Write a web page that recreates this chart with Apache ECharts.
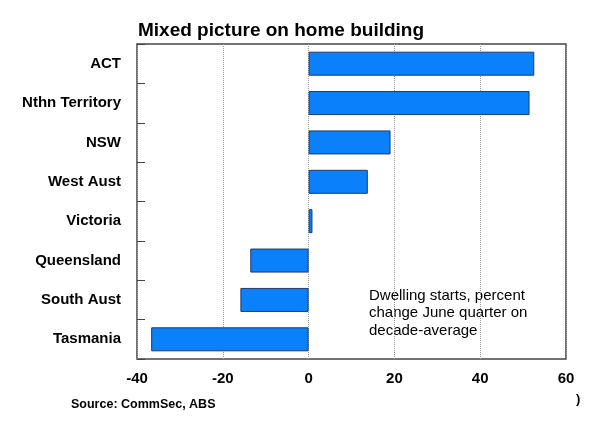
<!DOCTYPE html>
<html>
<head>
<meta charset="utf-8">
<script src="https://cdn.jsdelivr.net/npm/echarts@6/dist/echarts.min.js"></script>
<style>
html,body{margin:0;padding:0;background:#fff;}
#main{width:600px;height:425px;}
</style>
</head>
<body>
<div id="main"></div>
<script>
// 数据
var states = ['ACT', 'Nthn Territory', 'NSW', 'West Aust', 'Victoria', 'Queensland', 'South Aust', 'Tasmania'];
var change = [52.6, 51.5, 19.1, 13.8, 0.9, -13.6, -15.9, -36.7];
var xTicks = [-40, -20, 0, 20, 40, 60];

var myChart = echarts.init(document.getElementById('main'));
var font = 'Liberation Sans, Arial, sans-serif';

var option = {
    animation: false,
    title: {
        text: 'Mixed picture on home building',
        left: 133,
        top: 16,
        textStyle: {fontFamily: font, fontSize: 19, fontWeight: 'bold', color: '#000'}
    },
    grid: {
        left: 137, right: 34, top: 44, bottom: 66,
        show: true, borderColor: '#444', borderWidth: 1.5
    },
    xAxis: {
        type: 'value',
        min: xTicks[0],
        max: xTicks[xTicks.length - 1],
        interval: 20,
        axisLine: {show: false},
        axisTick: {show: false},
        axisLabel: {fontFamily: font, fontSize: 15, fontWeight: 'bold', color: '#000', margin: 12},
        splitLine: {show: true, lineStyle: {color: '#999', type: 'dotted', width: 1}}
    },
    yAxis: {
        type: 'category',
        data: states,
        inverse: true,
        axisLine: {show: false, onZero: false},
        axisTick: {show: true, inside: true, length: 8, lineStyle: {color: '#444'}},
        axisLabel: {fontFamily: font, fontSize: 15, fontWeight: 'bold', color: '#000', margin: 16}
    },
    series: [{
        type: 'bar',
        data: change,
        barCategoryGap: '39%',
        itemStyle: {color: '#0a80fb', borderColor: '#1d3b6b', borderWidth: 1}
    }],
    graphic: [
        {
            type: 'text', left: 369, top: 287,
            style: {
                text: 'Dwelling starts, percent\nchange June quarter on\ndecade-average',
                font: '15px ' + font, fill: '#000', lineHeight: 17.5
            }
        },
        {
            type: 'text', left: 71, top: 398,
            style: {text: 'Source: CommSec, ABS', font: 'bold 12.5px ' + font, fill: '#000'}
        },
        {
            type: 'text', left: 576, top: 393,
            style: {text: ')', font: 'bold 13px ' + font, fill: '#000'}
        }
    ]
};

myChart.setOption(option);
</script>
</body>
</html>
